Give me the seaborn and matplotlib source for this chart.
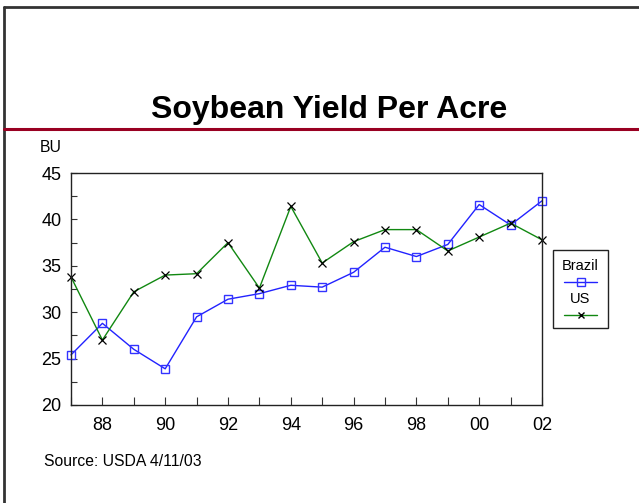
import matplotlib
matplotlib.use("Agg")
import matplotlib.pyplot as plt
from matplotlib.lines import Line2D
from matplotlib.patches import Rectangle
from matplotlib.ticker import MultipleLocator
import seaborn as sns
import pandas as pd

years = list(range(1987, 2003))
brazil = [25.4, 28.8, 26.0, 23.9, 29.5, 31.4, 32.0, 32.9, 32.7, 34.3, 37.0, 36.0, 37.3, 41.6, 39.4, 42.0]
us = [33.8, 27.0, 32.2, 34.0, 34.15, 37.5, 32.6, 41.4, 35.3, 37.6, 38.9, 38.9, 36.6, 38.1, 39.6, 37.8]
xtick_labels = ["" if y % 2 else f"{y % 100:02d}" for y in years]
title = "Soybean Yield Per Acre"
ylabel = "BU"
source = "Source: USDA 4/11/03"

sns.set_style("ticks")
plt.rcParams["font.family"] = ["Liberation Sans", "DejaVu Sans"]
plt.rcParams["text.color"] = "black"
plt.rcParams["xtick.color"] = "black"
plt.rcParams["ytick.color"] = "black"
plt.rcParams["axes.labelcolor"] = "black"

W, H = 639, 503
fig = plt.figure(figsize=(W / 100, H / 100), dpi=100)

def fx(px):
    return px / W

def fy(py):
    return 1 - py / H

ax = fig.add_axes([fx(71), fy(405), fx(542) - fx(71), fy(173) - fy(405)])

df = pd.DataFrame({"year": years, "Brazil": brazil, "US": us})
sns.lineplot(data=df, x="year", y="Brazil", ax=ax, color="#2222ff", lw=1,
             marker="s", markersize=5.5, markerfacecolor="none",
             markeredgecolor="#3333ff", markeredgewidth=1.0, clip_on=False)
sns.lineplot(data=df, x="year", y="US", ax=ax, color="#118811", lw=1,
             marker="x", markersize=5.5, markeredgecolor="black",
             markeredgewidth=0.9, clip_on=False)

ax.set_xlim(1987, 2002)
ax.set_ylim(20, 45)
ax.set_xticks(years)
ax.set_xticklabels(xtick_labels)
ax.yaxis.set_major_locator(MultipleLocator(5))
ax.yaxis.set_minor_locator(MultipleLocator(2.5))
ax.tick_params(axis="x", direction="in", length=6, width=0.8, labelsize=13, pad=9,
               color="#333333", labelcolor="black")
ax.tick_params(axis="y", which="both", direction="in", length=4, width=0.8, labelsize=13, pad=7,
               color="#333333", labelcolor="black")
ax.set_xlabel("")
ax.set_ylabel("")
for s in ax.spines.values():
    s.set_visible(True)
    s.set_color("#222222")
    s.set_linewidth(1.0)

# slide frame
fig.add_artist(Line2D([fx(4), fx(4)], [fy(7), 0], color="#333333", lw=2))
fig.add_artist(Line2D([fx(4), 1], [fy(7), fy(7)], color="#333333", lw=2))
fig.add_artist(Line2D([fx(4), 1], [fy(128.5), fy(128.5)], color="#990022", lw=2.2))

fig.text(fx(329), fy(110), title, ha="center", va="center", fontsize=23,
         fontweight="bold", color="black")
fig.text(fx(40), fy(147), ylabel, ha="left", va="center", fontsize=11.3, color="black")
fig.text(fx(44), fy(462), source, ha="left", va="center", fontsize=11.3, color="black")

# legend
fig.add_artist(Rectangle((fx(553), fy(328)), fx(608) - fx(553), fy(250) - fy(328),
                         fill=False, edgecolor="#222222", lw=1.0))
fig.text(fx(580.5), fy(266), "Brazil", ha="center", va="center", fontsize=10.5, color="black")
fig.add_artist(Line2D([fx(564), fx(597)], [fy(281.5), fy(281.5)], color="#2222ff", lw=1))
fig.add_artist(Line2D([fx(580.5)], [fy(281.5)], marker="s", markersize=5.5,
                      markerfacecolor="none", markeredgecolor="#3333ff", lw=0))
fig.text(fx(580.5), fy(299), "US", ha="center", va="center", fontsize=10.5, color="black")
fig.add_artist(Line2D([fx(564), fx(597)], [fy(315), fy(315)], color="#118811", lw=1))
fig.add_artist(Line2D([fx(580.5)], [fy(315)], marker="x", markersize=5,
                      markeredgecolor="black", lw=0))

fig.savefig("out.png", dpi=100)
